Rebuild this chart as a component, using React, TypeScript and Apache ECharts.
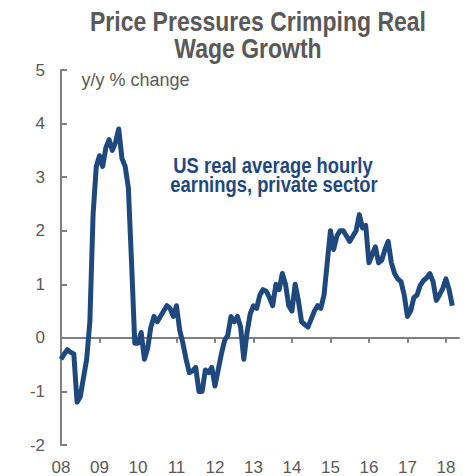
import React, { useEffect, useRef } from "react";
import * as echarts from "echarts";

// Monthly y/y % change, US real average hourly earnings, private sector (Jan 2008 - Mar 2018)
const startYear = 2008;
const v2008 = [-0.4, -0.3, -0.22, -0.27, -0.3, -1.2, -1.1, -0.75, -0.4, 0.3, 2.3, 3.2];
const v2009 = [3.4, 3.2, 3.55, 3.7, 3.5, 3.65, 3.9, 3.35, 3.2, 2.8, 1.4, -0.1];
const v2010 = [-0.1, 0.1, -0.4, -0.2, 0.2, 0.4, 0.3, 0.4, 0.5, 0.6, 0.55, 0.4];
const v2011 = [0.6, 0.15, -0.1, -0.4, -0.65, -0.62, -0.55, -1.0, -1.0, -0.6, -0.65, -0.55];
const v2012 = [-0.9, -0.6, -0.3, -0.05, 0.05, 0.4, 0.3, 0.4, 0.2, -0.4, 0.1, 0.45];
const v2013 = [0.6, 0.55, 0.8, 0.9, 0.87, 0.75, 0.6, 1.0, 0.9, 1.2, 1.0, 0.6];
const v2014 = [0.5, 1.0, 0.7, 0.3, 0.25, 0.2, 0.35, 0.5, 0.6, 0.55, 0.8, 1.4];
const v2015 = [2.0, 1.65, 1.9, 2.0, 2.0, 1.9, 1.8, 1.9, 2.0, 2.3, 2.05, 2.1];
const v2016 = [1.4, 1.55, 1.7, 1.4, 1.45, 1.65, 1.8, 1.4, 1.2, 1.1, 1.05, 0.8];
const v2017 = [0.4, 0.5, 0.75, 0.8, 0.98, 1.07, 1.12, 1.2, 1.05, 0.7, 0.8, 0.92];
const v2018 = [1.1, 0.9, 0.6];

const yearTicks = [2008, 2009, 2010, 2011, 2012, 2013, 2014, 2015, 2016, 2017, 2018];
const yMin = -2;
const yMax = 5;
const xMax = 2018.34;

const titleLines = ["Price Pressures Crimping Real", "Wage Growth"];
const unitLabel = "y/y % change";
const seriesLabelLines = ["US real average hourly", "earnings, private sector"];

const allValues = [v2008, v2009, v2010, v2011, v2012, v2013, v2014, v2015, v2016, v2017, v2018].flat();
const seriesData = allValues.map((v, i) => [startYear + i / 12, v]);

const FONT = "'Liberation Sans', Arial, Helvetica, sans-serif";
const GRAY = "#595959";
const AXIS = "#808080";
const BLUE = "#1F497D";

export default function App() {
  const ref = useRef<HTMLDivElement>(null);
  useEffect(() => {
    if (!ref.current) return;
    const chart = echarts.init(ref.current, null, { renderer: "svg" });
    chart.setOption({
      animation: false,
      backgroundColor: "#ffffff",
      grid: { left: 61, right: 11, top: 70, bottom: 31, containLabel: false },
      xAxis: [
        {
          type: "value",
          min: startYear,
          max: xMax,
          interval: 1,
          position: "bottom",
          axisLine: { show: true, onZero: true, lineStyle: { color: AXIS, width: 2 } },
          axisTick: { show: true, inside: false, length: 5, customValues: yearTicks, lineStyle: { color: AXIS, width: 2 } },
          axisLabel: { show: false },
          splitLine: { show: false },
        },
        {
          type: "value",
          min: startYear,
          max: xMax,
          interval: 1,
          position: "bottom",
          axisLine: { show: false, onZero: false },
          axisTick: { show: false },
          splitLine: { show: false },
          axisLabel: {
            show: true,
            customValues: yearTicks,
            margin: 14,
            color: GRAY,
            fontSize: 17,
            fontFamily: FONT,
            formatter: (v: number) => String(Math.round(v) - 2000).padStart(2, "0"),
          },
        },
      ],
      yAxis: {
        type: "value",
        min: yMin,
        max: yMax,
        interval: 1,
        axisLine: { show: true, onZero: false, lineStyle: { color: AXIS, width: 2 } },
        axisTick: { show: true, inside: true, length: 6, lineStyle: { color: AXIS, width: 2 } },
        splitLine: { show: false },
        axisLabel: { color: GRAY, fontSize: 17, fontFamily: FONT, margin: 16 },
      },
      series: [
        {
          type: "line",
          xAxisIndex: 0,
          data: seriesData,
          showSymbol: false,
          symbol: "none",
          lineStyle: { color: BLUE, width: 5, join: "round" },
          z: 3,
        },
      ],
      graphic: [
        {
          type: "text",
          x: 258,
          y: 21.7,
          scaleY: 1.18,
          style: { text: titleLines[0], fontSize: 23, fontWeight: "bold", fontFamily: FONT, fill: GRAY, align: "center", verticalAlign: "middle" },
        },
        {
          type: "text",
          x: 248,
          y: 48.3,
          scaleY: 1.18,
          style: { text: titleLines[1], fontSize: 23, fontWeight: "bold", fontFamily: FONT, fill: GRAY, align: "center", verticalAlign: "middle" },
        },
        {
          type: "text",
          x: 81.5,
          y: 80,
          style: { text: unitLabel, fontSize: 18, fontFamily: FONT, fill: GRAY, align: "left", verticalAlign: "middle" },
        },
        {
          type: "text",
          x: 273,
          y: 165,
          scaleY: 1.2,
          style: { text: seriesLabelLines[0], fontSize: 18.4, fontWeight: "bold", fontFamily: FONT, fill: BLUE, align: "center", verticalAlign: "middle" },
        },
        {
          type: "text",
          x: 274,
          y: 184.5,
          scaleY: 1.2,
          style: { text: seriesLabelLines[1], fontSize: 18.4, fontWeight: "bold", fontFamily: FONT, fill: BLUE, align: "center", verticalAlign: "middle" },
        },
      ],
    });
    return () => chart.dispose();
  }, []);
  return <div ref={ref} style={{ position: "fixed", left: 0, top: 0, width: 470, height: 476 }} />;
}
